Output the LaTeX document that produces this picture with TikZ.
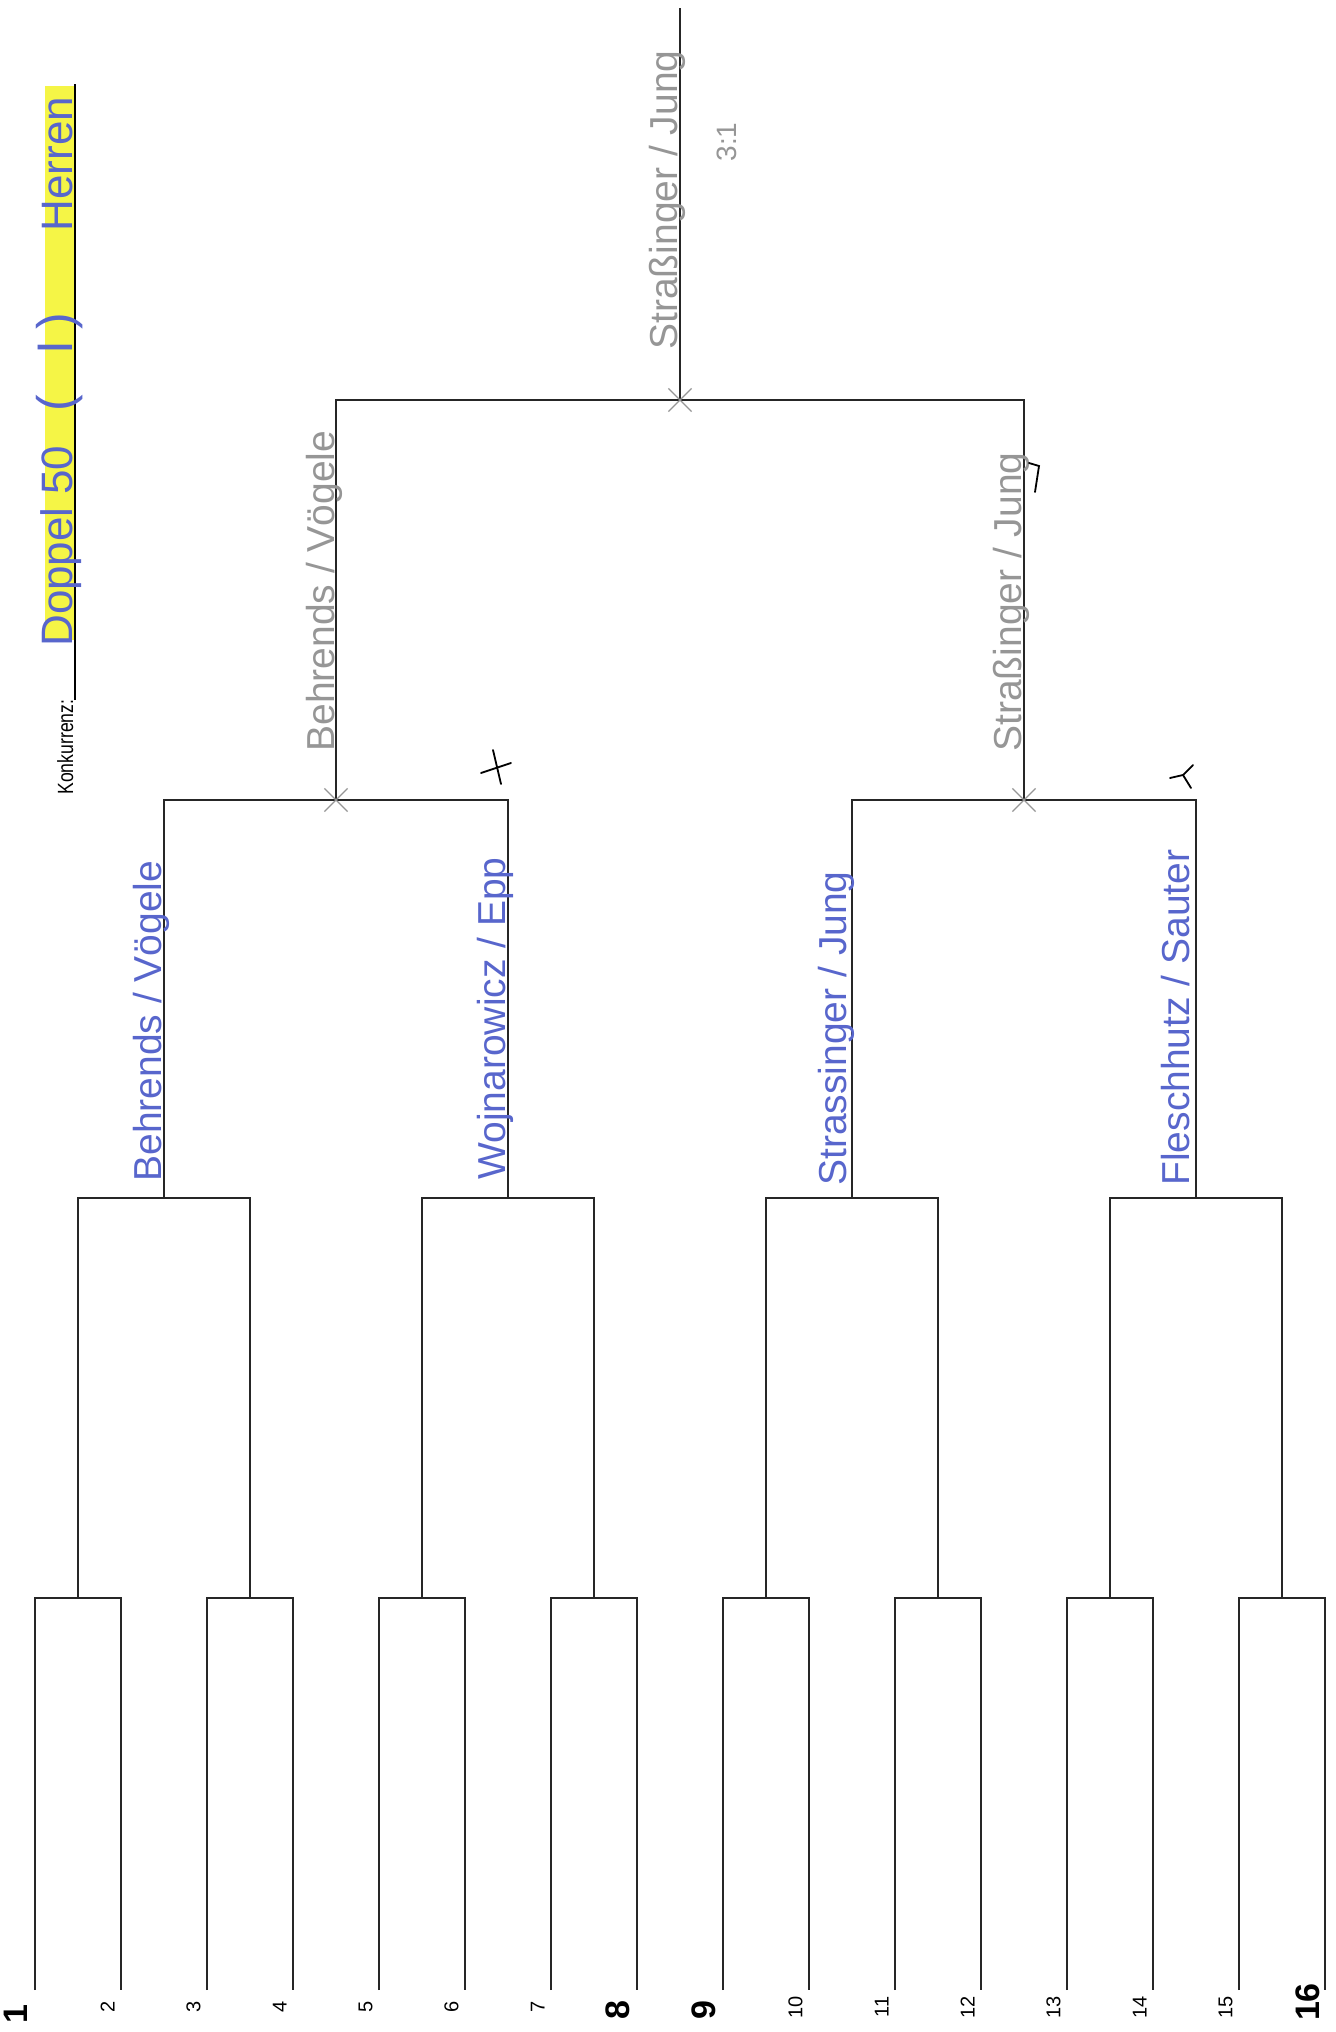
\documentclass[tikz,border=0pt]{standalone}
\usepackage{fontspec}
\setmainfont{Liberation Sans}
\usetikzlibrary{shapes.misc}

\definecolor{inkblue}{RGB}{88,102,204}
\definecolor{pencilgray}{RGB}{150,150,150}
\definecolor{marker}{RGB}{245,245,70}

\begin{document}
\begin{tikzpicture}[
    x=0.5pt, y=-0.5pt,
    bar/.style={line width=1.2pt, black!85},
    seed/.style={rotate=90, anchor=south, inner sep=0pt,
                 font=\fontsize{10}{12}\selectfont},
    topseed/.style={seed, font=\fontsize{17}{20}\selectfont\bfseries},
    pen/.style={rotate=90, anchor=base west, inner sep=0pt, text=inkblue,
                font=\fontsize{19.5}{22}\selectfont},
    pencil/.style={pen, text=pencilgray},
    title/.style={pen, anchor=base, font=\fontsize{22}{24}\selectfont},
    hit/.style={cross out, draw=pencilgray, line width=0.6pt,
                minimum size=11pt, inner sep=0pt},
    tickmark/.style={line width=0.9pt, line cap=round},
  ]
    \useasboundingbox (0,0) rectangle (1335,2032);

    % header
    \fill[marker] (45,86) rectangle (76,640);
    \draw[line width=0.8pt] (75,700) -- (75,84);
    \node[rotate=90, anchor=base west, inner sep=0pt,
          font=\fontsize{11}{13}\selectfont] (konk) at (73,795)
      {\scalebox{0.8}[1]{Konkurrenz:}};
    \node[title] (doppel) at (72,577) {Doppel};
    \node[title] (age) at (72,470) {50};
    \node[title, font=\fontsize{25}{27}\selectfont] (klasse) at (72,362)
      {(\hspace{20pt}I\hspace{6pt})};
    \node[title] (herren) at (72,164) {Herren};

    % bracket joints
    \foreach \i in {1,...,16}
      \coordinate (l\i) at ({86*\i-51}, 1990);
    \foreach \k in {1,...,8}
      \coordinate (a\k) at ({172*\k-94}, 1598);
    \foreach \k in {1,...,4}
      \coordinate (b\k) at ({344*\k-180}, 1198);
    \coordinate (c1) at (336,800);
    \coordinate (c2) at (1024,800);
    \coordinate (f) at (680,400);
    \coordinate (top) at (680,8);

    % first round
    \draw[bar] (l1) |- (a1) -| (l2);
    \draw[bar] (l3) |- (a2) -| (l4);
    \draw[bar] (l5) |- (a3) -| (l6);
    \draw[bar] (l7) |- (a4) -| (l8);
    \draw[bar] (l9) |- (a5) -| (l10);
    \draw[bar] (l11) |- (a6) -| (l12);
    \draw[bar] (l13) |- (a7) -| (l14);
    \draw[bar] (l15) |- (a8) -| (l16);
    % second round
    \draw[bar] (a1) |- (b1) -| (a2);
    \draw[bar] (a3) |- (b2) -| (a4);
    \draw[bar] (a5) |- (b3) -| (a6);
    \draw[bar] (a7) |- (b4) -| (a8);
    % quarter, semi, final
    \draw[bar] (b1) |- (c1) -| (b2);
    \draw[bar] (b3) |- (c2) -| (b4);
    \draw[bar] (c1) |- (f) -| (c2);
    \draw[bar] (f) -- (top);

    % seed numbers
    \foreach \i in {2,3,4,5,6,7,10,11,12,13,14,15}
      \node[seed] (n\i) at ({86*\i-57}, 2007) {\i};
    \node[topseed] (n1) at (28,2014) {1};
    \node[topseed] (n8) at (630,2010) {8};
    \node[topseed] (n9) at (716,2010) {9};
    \node[topseed] (n16) at (1320,2002) {16};

    % handwritten results
    \node[pen] (win1) at (161,1182) {Behrends / Vögele};
    \node[pen] (win2) at (505,1180) {Wojnarowicz / Epp};
    \node[pen] (win3) at (846,1186) {Strassinger / Jung};
    \node[pen] (win4) at (1189,1186) {Fleschhutz / Sauter};
    \node[pencil] (semi1) at (334,752) {Behrends / Vögele};
    \node[pencil] (semi2) at (1021,752) {Straßinger / Jung};
    \node[pencil] (champ) at (677,350) {Straßinger / Jung};
    \node[pencil, anchor=base, font=\fontsize{14}{16}\selectfont]
      (score) at (736,142) {3:1};

    % marks at the joints
    \node[hit] (x1) at (c1) {};
    \node[hit] (x2) at (c2) {};
    \node[hit] (x3) at (f) {};
    \draw[tickmark] (493,750) -- (501,784);
    \draw[tickmark] (481,773) -- (511,763);
    \draw[tickmark] (1170,778) -- (1183,775) -- (1193,765);
    \draw[tickmark] (1183,775) -- (1191,788);
    \draw[tickmark] (1029,463) -- (1039,466) -- (1035,492);
\end{tikzpicture}
\end{document}
